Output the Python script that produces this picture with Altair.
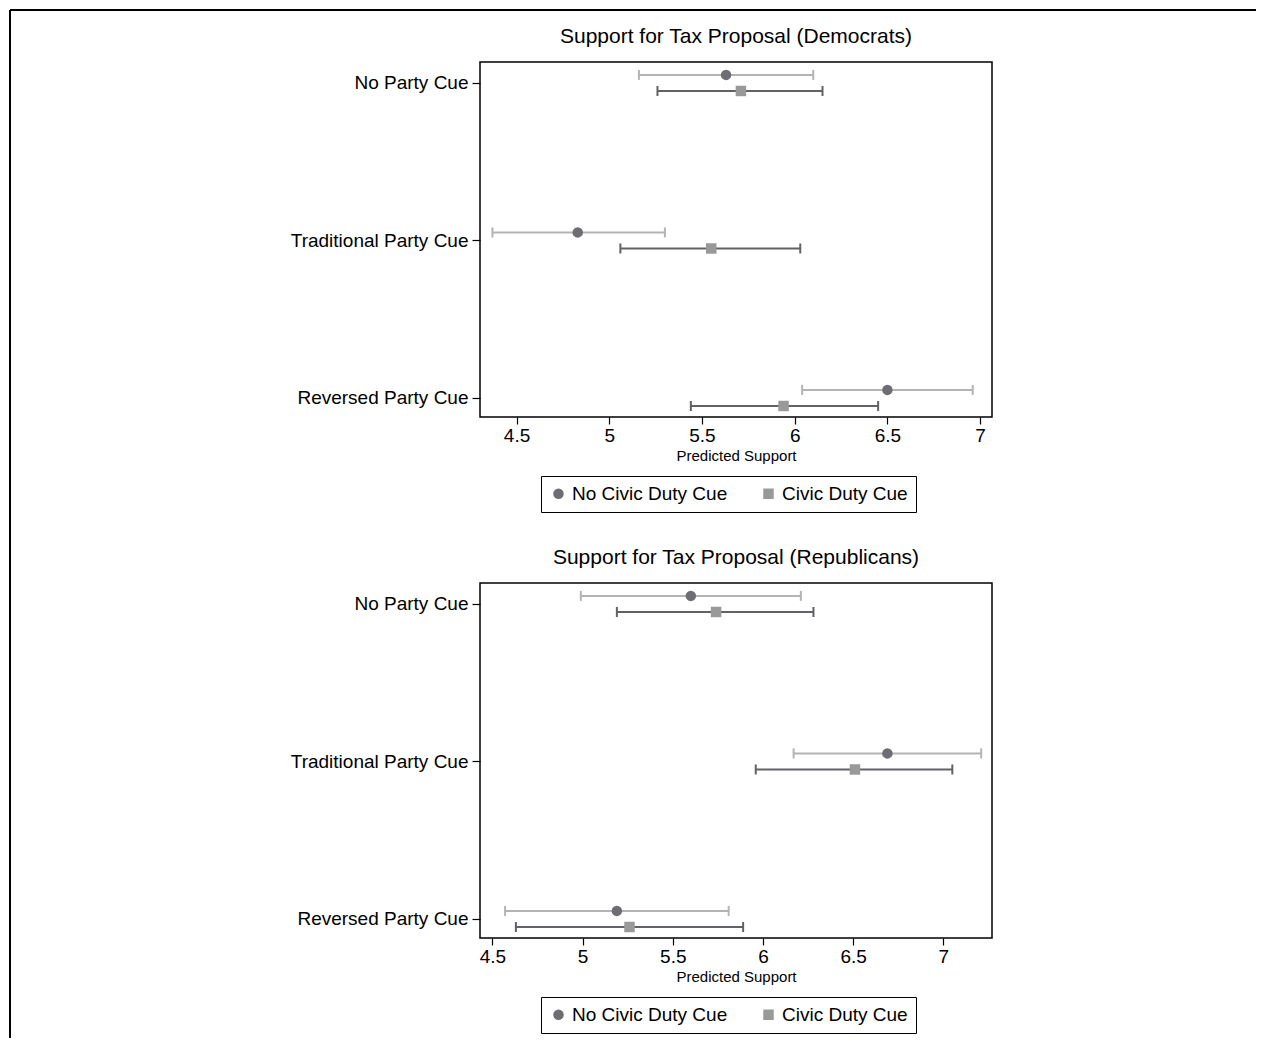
import altair as alt
import pandas as pd

FONT = "Liberation Sans, Arial, Helvetica, sans-serif"

cues = ["No Party Cue", "Traditional Party Cue", "Reversed Party Cue"]
cue_pos = [1, 2, 3]
series = ["No Civic Duty Cue", "Civic Duty Cue"]

# Democrats
dem_nocivic_est = [5.63, 4.83, 6.50]
dem_nocivic_lo = [5.16, 4.37, 6.04]
dem_nocivic_hi = [6.10, 5.30, 6.96]
dem_civic_est = [5.71, 5.55, 5.94]
dem_civic_lo = [5.26, 5.06, 5.44]
dem_civic_hi = [6.15, 6.03, 6.45]

# Republicans
rep_nocivic_est = [5.60, 6.69, 5.19]
rep_nocivic_lo = [4.99, 6.17, 4.57]
rep_nocivic_hi = [6.21, 7.21, 5.81]
rep_civic_est = [5.74, 6.51, 5.26]
rep_civic_lo = [5.19, 5.96, 4.63]
rep_civic_hi = [6.28, 7.05, 5.89]

x_ticks = [4.5, 5, 5.5, 6, 6.5, 7]

POINT_COLORS = ["#6d6d72", "#999999"]
CI_COLORS = {"No Civic Duty Cue": "#b4b4b4", "Civic Duty Cue": "#626266"}


def make_df(ne, nl, nh, ce, cl, ch):
    rows = []
    for i, c in enumerate(cues):
        rows.append(dict(cue=c, pos=cue_pos[i], series=series[0], est=ne[i], lo=nl[i], hi=nh[i],
                         cicolor=CI_COLORS[series[0]]))
        rows.append(dict(cue=c, pos=cue_pos[i], series=series[1], est=ce[i], lo=cl[i], hi=ch[i],
                         cicolor=CI_COLORS[series[1]]))
    return pd.DataFrame(rows)


label_expr = ("datum.value == 1 ? 'No Party Cue' : datum.value == 2 ? "
              "'Traditional Party Cue' : 'Reversed Party Cue'")

one = pd.DataFrame({"a": [0]})


def panel(df, title, xdomain, frame=False):
    base = alt.Chart(df).transform_calculate(
        ypos="datum.pos + (datum.series == 'No Civic Duty Cue' ? -0.051 : 0.051)"
    )
    xscale = alt.Scale(domain=xdomain, nice=False, zero=False)
    yscale = alt.Scale(domain=[0.867, 3.121], nice=False, zero=False, reverse=True)
    xaxis = alt.Axis(values=x_ticks, labelExpr="datum.value + ''", title="Predicted Support",
                     titleFontSize=15, titleFont=FONT, titleFontWeight="normal", titleColor="black",
                     titlePadding=3, labelFontSize=19, labelFont=FONT, labelColor="black",
                     tickColor="black", tickSize=7, tickWidth=1.2, domain=False, grid=False,
                     labelPadding=2)
    yaxis = alt.Axis(values=cue_pos, labelExpr=label_expr, title=None, labelFontSize=19,
                     labelFont=FONT, labelColor="black", tickColor="black", tickSize=8,
                     tickWidth=1.2, domain=False, grid=False, labelPadding=4)
    y = alt.Y("ypos:Q", scale=yscale, axis=yaxis)
    cicol = alt.Color("cicolor:N", scale=None)

    rule = base.mark_rule(strokeWidth=2, opacity=1).encode(
        x=alt.X("lo:Q", scale=xscale, axis=xaxis), x2="hi:Q", y=y, color=cicol)
    cap_lo = base.mark_tick(orient="vertical", size=10, thickness=2, opacity=1).encode(
        x=alt.X("lo:Q", scale=xscale), y=y, color=cicol)
    cap_hi = base.mark_tick(orient="vertical", size=10, thickness=2, opacity=1).encode(
        x=alt.X("hi:Q", scale=xscale), y=y, color=cicol)
    legend = alt.Legend(title=None, orient="none", legendX=61, legendY=414, direction="horizontal",
                        strokeColor="black", padding=8, labelFontSize=19, labelFont=FONT,
                        labelColor="black", symbolSize=110, symbolStrokeWidth=0,
                        columnPadding=31, labelOffset=4, symbolOpacity=1)
    pts = base.mark_point(filled=True, opacity=1, size=110).encode(
        x=alt.X("est:Q", scale=xscale),
        y=y,
        color=alt.Color("series:N", scale=alt.Scale(domain=series, range=POINT_COLORS), legend=legend),
        shape=alt.Shape("series:N", scale=alt.Scale(domain=series, range=["circle", "square"]),
                        legend=legend),
        opacity=alt.value(1),
    )
    ttl = alt.Chart(one).mark_text(fontSize=21, font=FONT, color="black", align="center",
                                   baseline="alphabetic").encode(
        x=alt.value(256), y=alt.value(-19), text=alt.value(title))
    layers = [rule, cap_lo, cap_hi, pts, ttl]
    if frame:
        fl = alt.Chart(one).mark_rule(color="black", strokeWidth=2).encode(
            x=alt.value(-470), y=alt.value(-52), y2=alt.value(976))
        ft = alt.Chart(one).mark_rule(color="black", strokeWidth=2).encode(
            x=alt.value(-470), x2=alt.value(776), y=alt.value(-52))
        layers = [fl, ft] + layers
    return alt.layer(*layers).properties(width=512, height=355)


dem = panel(make_df(dem_nocivic_est, dem_nocivic_lo, dem_nocivic_hi,
                    dem_civic_est, dem_civic_lo, dem_civic_hi),
            "Support for Tax Proposal (Democrats)", [4.303, 7.064], frame=True)
rep = panel(make_df(rep_nocivic_est, rep_nocivic_lo, rep_nocivic_hi,
                    rep_civic_est, rep_civic_lo, rep_civic_hi),
            "Support for Tax Proposal (Republicans)", [4.431, 7.27])

chart = alt.vconcat(dem, rep, spacing=166, bounds="flush").resolve_scale(
    x="independent", y="independent", color="independent", shape="independent"
).resolve_legend(color="independent", shape="independent").properties(
    padding=0
).configure(background="white").configure_view(
    stroke="black", strokeWidth=1.5
).configure_point(opacity=1).configure_tick(opacity=1).configure_legend(symbolOpacity=1)

chart.save("out.html", embed_options={"renderer": "svg", "actions": False})
